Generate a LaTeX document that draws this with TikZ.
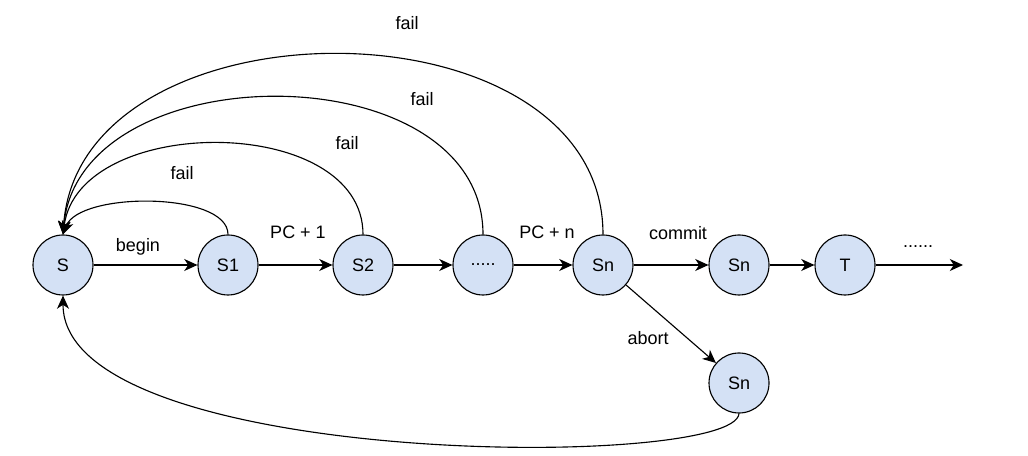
\documentclass[tikz,border=0pt]{standalone}
\usepackage{fontspec}
\setmainfont{Liberation Sans}
\usetikzlibrary{arrows.meta}
\definecolor{stateblue}{HTML}{D4E1F5}

\begin{document}
\begin{tikzpicture}[
        state/.style={circle, draw=black, fill=stateblue, line width=0.8pt, minimum size=1.5cm, inner sep=0pt, font=\fontsize{12.8}{15}\selectfont},
        label_node/.style={font=\fontsize{12.8}{15}\selectfont},
        edge/.style={line width=0.8pt, -{Stealth[length=3.3mm, width=3mm, inset=1mm]}}
    ]
    \useasboundingbox (0,0) rectangle (25.7,11.375);

    % Stati
    \node[state] (s) at (1.575,4.75) {S};
    \node[state] (s1) at (5.7,4.75) {S1};
    \node[state] (s2) at (9.075,4.75) {S2};
    \node[state] (dots) at (12.075,4.75) {.....};
    \node[state] (sn) at (15.075,4.75) {Sn};
    \node[state] (sncommit) at (18.475,4.75) {Sn};
    \node[state] (t) at (21.125,4.75) {T};
    \node[state] (snabort) at (18.475,1.8) {Sn};
    \coordinate (tail) at (24.075,4.75);

    % Transizioni in avanti
    \draw[edge] (s) -- (s1);
    \draw[edge] (s1) -- (s2);
    \draw[edge] (s2) -- (dots);
    \draw[edge] (dots) -- (sn);
    \draw[edge] (sn) -- (sncommit);
    \draw[edge] (sncommit) -- (t);
    \draw[edge] (t) -- (tail);
    \draw[edge] (sn) -- (snabort);

    % Fail (ritorno a S)
    \draw[edge] (s1.north) .. controls +(0,1.075) and +(0.4,1.075) .. (s.north);
    \draw[edge] (s2.north) .. controls +(0,3.03) and +(0.4,3.03) .. (s.north);
    \draw[edge] (dots.north) .. controls +(0,4.57) and +(0.4,4.57) .. (s.north);
    \draw[edge] (sn.north) .. controls +(0,6.0) and +(0.4,6.0) .. (s.north);

    % Abort (ritorno a S)
    \draw[edge] (snabort.south) .. controls +(-0.1,-1.425) and +(0,-4.325) .. (s.south);

    % Etichette
    \node[label_node] (lbegin) at (3.45,5.2) {begin};
    \node[label_node] (lpc1) at (7.45,5.57) {PC + 1};
    \node[label_node] (lpcn) at (13.675,5.57) {PC + n};
    \node[label_node] (lcommit) at (16.95,5.55) {commit};
    \node[label_node] (lmore) at (22.95,5.2) {......};
    \node[label_node] (labort) at (16.2,2.925) {abort};
    \node[label_node] (lfail1) at (4.55,7.05) {fail};
    \node[label_node] (lfail2) at (8.675,7.8) {fail};
    \node[label_node] (lfail3) at (10.55,8.9) {fail};
    \node[label_node] (lfail4) at (10.175,10.8) {fail};
\end{tikzpicture}
\end{document}
